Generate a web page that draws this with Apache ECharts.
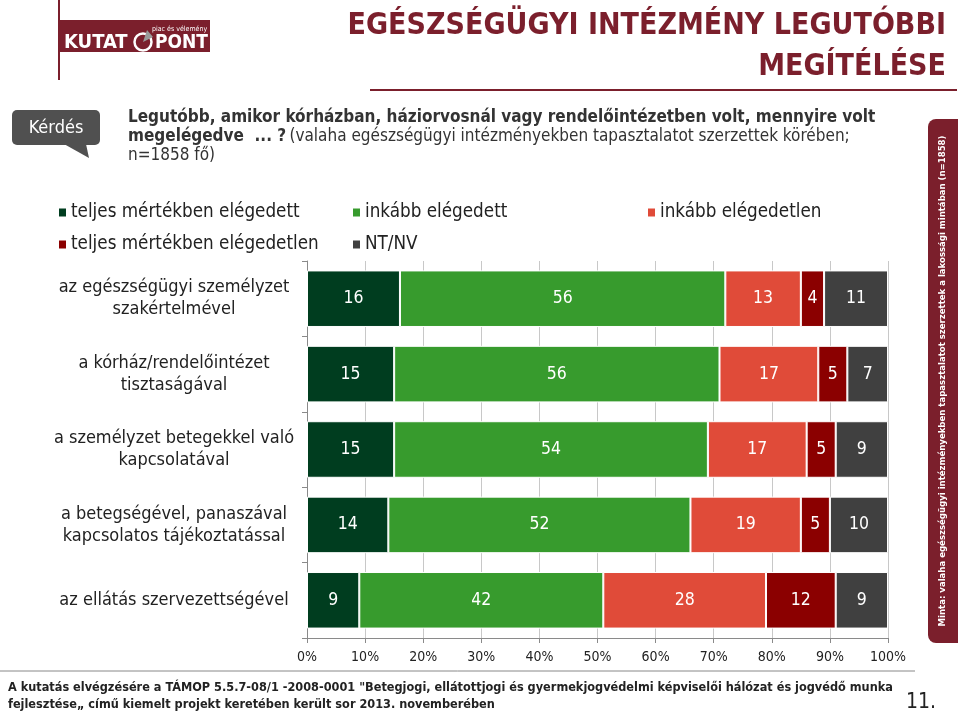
<!DOCTYPE html>
<html>
<head>
<meta charset="utf-8">
<script src="https://cdn.jsdelivr.net/npm/echarts@6/dist/echarts.min.js"></script>
<style>
html,body{margin:0;padding:0;background:#fff;}
#chart{width:960px;height:713px;}
</style>
</head>
<body>
<div id="chart"></div>
<script>
var categories = [
  "az egészségügyi személyzet\nszakértelmével",
  "a kórház/rendelőintézet\ntisztaságával",
  "a személyzet betegekkel való\nkapcsolatával",
  "a betegségével, panaszával\nkapcsolatos tájékoztatással",
  "az ellátás szervezettségével"
];
var seriesNames = ["teljes mértékben elégedett", "inkább elégedett", "inkább elégedetlen", "teljes mértékben elégedetlen", "NT/NV"];
var teljesElegedett = [16, 15, 15, 14, 9];
var inkabbElegedett = [56, 56, 54, 52, 42];
var inkabbElegedetlen = [13, 17, 17, 19, 28];
var teljesElegedetlen = [4, 5, 5, 5, 12];
var ntnv = [11, 7, 9, 10, 9];
var xTicks = [0, 10, 20, 30, 40, 50, 60, 70, 80, 90, 100];

var colors = ["#003d1f", "#379b2d", "#e04b39", "#8b0000", "#404040"];
var values = [teljesElegedett, inkabbElegedett, inkabbElegedetlen, teljesElegedetlen, ntnv];
var FONT = "'DejaVu Sans Condensed', 'DejaVu Sans', sans-serif";
var DARKRED = "#7b1f2c";

var series = seriesNames.map(function (name, i) {
  return {
    name: name,
    type: "bar",
    stack: "total",
    barWidth: "75%",
    data: values[i],
    itemStyle: { color: colors[i], borderColor: "#fff", borderWidth: 1 },
    label: { show: true, position: "inside", color: "#fff", fontSize: 17.5, fontFamily: FONT },
    z: 3
  };
});

var legendPos = [[57, 203], [351, 203], [646, 203], [57, 235], [351, 235]];
var legends = seriesNames.map(function (name, i) {
  return {
    data: [name],
    left: legendPos[i][0],
    top: legendPos[i][1],
    padding: 0,
    icon: "rect",
    itemWidth: 9,
    itemHeight: 10,
    selectedMode: false,
    textStyle: { fontSize: 18.7, color: "#222", fontFamily: FONT, padding: [0, 0, 0, -1] }
  };
});

var chart = echarts.init(document.getElementById("chart"), null, { renderer: "canvas" });
chart.setOption({
  backgroundColor: "#fff",
  animation: false,
  textStyle: { fontFamily: FONT },
  legend: legends,
  grid: { left: 307, right: 72, top: 261, bottom: 75, containLabel: false },
  xAxis: {
    type: "value",
    min: xTicks[0],
    max: xTicks[xTicks.length - 1],
    interval: 10,
    axisLine: { show: true, lineStyle: { color: "#8a8a8a" } },
    axisTick: { show: true, length: 5, lineStyle: { color: "#8a8a8a" } },
    splitLine: { show: true, lineStyle: { color: "#c8c8c8" } },
    axisLabel: { formatter: "{value}%", fontSize: 14, color: "#222", margin: 12, fontFamily: FONT }
  },
  yAxis: {
    type: "category",
    inverse: true,
    data: categories,
    axisLine: { show: true, lineStyle: { color: "#8a8a8a" } },
    axisTick: { show: true, length: 5, lineStyle: { color: "#8a8a8a" } },
    axisLabel: { align: "center", margin: 133, fontSize: 18, lineHeight: 22, color: "#222", fontFamily: FONT }
  },
  series: series,
  graphic: [
    // logo
    { type: "line", shape: { x1: 59, y1: 0, x2: 59, y2: 80 }, style: { stroke: DARKRED, lineWidth: 2 } },
    { type: "rect", shape: { x: 60, y: 20, width: 150, height: 32 }, style: { fill: DARKRED } },
    { type: "text", x: 64, y: 43, style: { text: "KUTAT", fill: "#fff", font: "bold 20px " + FONT, verticalAlign: "middle" } },
    { type: "circle", shape: { cx: 143, cy: 42, r: 8.5 }, style: { fill: "none", stroke: "#fff", lineWidth: 2.5 } },
    { type: "polygon", shape: { points: [[143, 42], [147, 30], [153, 37]] }, style: { fill: "#9a9a9a" } },
    { type: "text", x: 155, y: 43, style: { text: "PONT", fill: "#fff", font: "bold 19px " + FONT, verticalAlign: "middle" } },
    { type: "text", x: 152, y: 29, style: { text: "piac és vélemény", fill: "#fff", font: "7px " + FONT, verticalAlign: "middle" } },
    // title
    { type: "text", x: 946, y: 6, style: { text: "EGÉSZSÉGÜGYI INTÉZMÉNY LEGUTÓBBI\nMEGÍTÉLÉSE", fill: DARKRED, font: "bold 30px " + FONT, align: "right", verticalAlign: "top", lineHeight: 41 } },
    { type: "line", shape: { x1: 370, y1: 90, x2: 957, y2: 90 }, style: { stroke: DARKRED, lineWidth: 2 } },
    // Kérdés bubble
    { type: "rect", shape: { x: 12, y: 110, width: 88, height: 35, r: 5 }, style: { fill: "#505050" } },
    { type: "polygon", shape: { points: [[64, 144], [86, 144], [89, 158]] }, style: { fill: "#505050" } },
    { type: "text", x: 56, y: 128, style: { text: "Kérdés", fill: "#fff", font: "18px " + FONT, align: "center", verticalAlign: "middle" } },
    // question
    { type: "text", left: 128, top: 109, style: {
        text: "{b|Legutóbb, amikor kórházban, háziorvosnál vagy rendelőintézetben volt, mennyire volt}\n{b|megelégedve  ... ?} {n|(valaha egészségügyi intézményekben tapasztalatot szerzettek körében;}\n{n|n=1858 fő)}",
        rich: {
          b: { font: "bold 17px " + FONT, fill: "#333", lineHeight: 19 },
          n: { font: "17px " + FONT, fill: "#333", lineHeight: 19 }
        }
    } },
    // sidebar
    { type: "rect", shape: { x: 928, y: 119, width: 30, height: 524, r: [8, 0, 0, 8] }, style: { fill: DARKRED } },
    { type: "text", x: 943, y: 381, rotation: Math.PI / 2, style: { text: "Minta: valaha egészségügyi intézményekben tapasztalatot szerzettek a lakossági mintában (n=1858)", fill: "#fff", font: "bold 9.5px " + FONT, align: "center", verticalAlign: "middle" } },
    // footer
    { type: "line", shape: { x1: 0, y1: 671, x2: 915, y2: 671 }, style: { stroke: "#888", lineWidth: 1 } },
    { type: "text", left: 8, top: 679, style: { text: "A kutatás elvégzésére a TÁMOP 5.5.7-08/1 -2008-0001 \"Betegjogi, ellátottjogi és gyermekjogvédelmi képviselői hálózat és jogvédő munka\nfejlesztése„ című kiemelt projekt keretében került sor 2013. novemberében", fill: "#222", font: "bold 12.6px " + FONT, lineHeight: 17 } },
    { type: "text", left: 906, top: 692, style: { text: "11.", fill: "#222", font: "21px " + FONT } }
  ]
});
</script>
</body>
</html>
